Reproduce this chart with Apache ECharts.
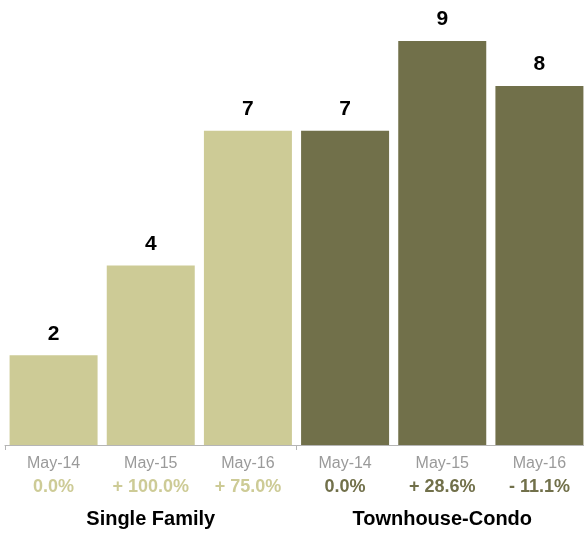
<!DOCTYPE html>
<html><head><meta charset="utf-8">
<script src="https://cdn.jsdelivr.net/npm/echarts@6/dist/echarts.min.js"></script>
<style>html,body{margin:0;padding:0;background:#fff;overflow:hidden}#c{width:600px;height:533px}</style>
</head><body><div id="c"></div>
<script>
const categories = ["May-14","May-15","May-16","May-14","May-15","May-16"];
const groupNames = ["Single Family","Townhouse-Condo"];
const values = [2,4,7,7,9,8];
const pctLabels = ["0.0%","+ 100.0%","+ 75.0%","0.0%","+ 28.6%","- 11.1%"];
const groupColors = ["#cdcb96","#71704a"];

const chart = echarts.init(document.getElementById('c'));
const FONT = '"Liberation Sans", Arial, Helvetica, sans-serif';
chart.setOption({
  animation:false,
  grid:{left:5,width:583,top:41,bottom:88,containLabel:false},
  xAxis:[{
    type:'category',
    data:categories,
    position:'bottom',
    axisLine:{show:true,lineStyle:{color:'#b5b5b5',width:1}},
    axisTick:{show:true,length:5,lineStyle:{color:'#b5b5b5'},interval:function(i){return i%3===0;}},
    axisLabel:{
      interval:0,margin:9,fontFamily:FONT,
      formatter:function(v,i){return '{d|'+v+'}\n{p'+Math.floor(i/3)+'|'+pctLabels[i]+'}';},
      rich:{
        d:{fontSize:16,color:'#9a9a9a',lineHeight:20,fontFamily:FONT},
        p0:{fontSize:18,fontWeight:'bold',color:groupColors[0],lineHeight:26,fontFamily:FONT},
        p1:{fontSize:18,fontWeight:'bold',color:groupColors[1],lineHeight:26,fontFamily:FONT}
      }
    }
  },{
    type:'category',
    data:groupNames,
    position:'bottom',
    axisLine:{show:false},axisTick:{show:false},
    axisLabel:{interval:0,margin:63,fontSize:20,fontWeight:'bold',color:'#000',fontFamily:FONT,lineHeight:22}
  }],
  yAxis:{type:'value',min:0,max:9,show:false,splitLine:{show:false}},
  series:[{
    type:'bar',
    xAxisIndex:0,
    barWidth:88,
    data:values.map(function(v,i){return {value:v,itemStyle:{color:groupColors[Math.floor(i/3)]}};}),
    label:{show:true,position:'top',distance:11,fontSize:21,fontWeight:'bold',color:'#000',fontFamily:FONT}
  }]
});
</script></body></html>
